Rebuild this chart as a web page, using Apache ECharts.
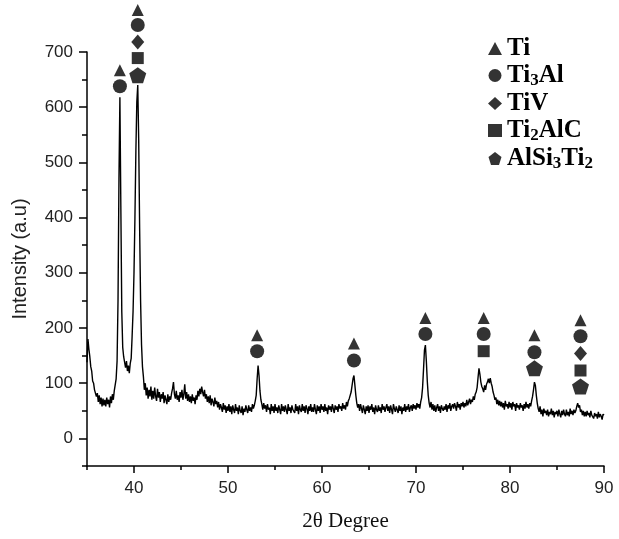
<!DOCTYPE html>
<html>
<head>
<meta charset="utf-8">
<script src="https://cdn.jsdelivr.net/npm/echarts@6/dist/echarts.min.js"></script>
<style>
html,body{margin:0;padding:0;background:#fff;}
#chart{width:619px;height:539px;}
</style>
</head>
<body>
<div id="chart"></div>
<script>
// 2θ grid: 35.0 .. 90.0 in 0.1° steps, one row per degree
const twoThetaStart = 35.0;
const twoThetaStep = 0.1;
const intensity = [
  138,180,162,148,130,122,104,100,88,90,      // 35
  76,82,66,78,62,74,58,72,60,70,              // 36
  58,74,62,70,56,76,64,80,70,86,              // 37
  88,108,140,250,470,618,420,230,165,148,     // 38
  150,128,140,122,132,118,136,145,185,230,    // 39
  300,400,520,610,640,540,380,250,170,130,    // 40
  112,88,100,78,92,72,88,76,94,70,            // 41
  86,72,92,76,68,90,74,84,66,80,              // 42
  72,84,64,78,70,62,80,66,76,70,              // 43
  82,90,102,80,72,86,70,78,66,84,             // 44
  74,88,70,80,98,72,84,68,80,66,              // 45
  76,64,80,68,74,62,78,70,86,76,              // 46
  90,80,94,84,76,88,72,80,66,76,              // 47
  64,78,60,72,66,58,74,62,68,56,              // 48
  66,52,62,56,48,64,52,60,46,58,              // 49
  50,62,48,58,44,60,52,46,62,50,              // 50
  56,44,60,50,46,58,42,54,48,60,              // 51
  52,46,60,50,56,48,62,54,60,68,              // 52
  78,108,132,114,86,70,62,52,64,54,           // 53
  60,48,62,52,56,44,62,50,58,46,              // 54
  62,50,56,46,60,52,44,62,50,58,              // 55
  48,60,52,44,62,50,56,46,60,52,              // 56
  54,46,62,50,58,44,60,52,48,62,              // 57
  50,58,46,60,54,44,58,50,62,48,              // 58
  56,48,62,52,44,60,50,58,46,62,              // 59
  52,58,48,62,50,56,44,60,52,58,              // 60
  48,62,54,46,60,52,58,48,62,54,              // 61
  58,50,64,54,60,52,66,58,68,72,              // 62
  74,84,96,108,114,96,78,64,56,62,            // 63
  50,62,54,46,60,52,44,58,50,60,              // 64
  46,58,52,62,48,56,44,60,52,48,              // 65
  60,50,56,46,62,52,58,48,56,62,              // 66
  50,58,46,60,52,44,62,54,48,58,              // 67
  52,46,60,50,58,44,56,50,62,48,              // 68
  58,52,62,48,56,60,50,62,54,60,              // 69
  52,64,56,62,54,66,74,92,125,160,            // 70
  169,140,104,78,64,56,66,52,62,50,           // 71
  60,48,56,62,50,58,46,60,54,50,              // 72
  58,52,62,48,60,54,64,50,58,62,              // 73
  54,64,58,50,66,56,62,52,64,58,              // 74
  66,56,64,58,70,60,66,72,62,70,              // 75
  66,76,70,80,84,92,110,127,116,102,          // 76
  94,90,84,96,88,98,102,108,100,109,          // 77
  100,94,84,78,70,74,62,70,60,68,             // 78
  58,66,56,64,52,68,58,62,54,66,              // 79
  56,64,52,66,58,62,50,64,56,60,              // 80
  52,64,56,60,50,62,54,66,56,62,              // 81
  54,64,58,68,76,88,102,96,78,64,             // 82
  54,48,58,44,52,40,54,46,50,42,              // 83
  52,40,48,44,54,42,50,38,48,44,              // 84
  50,40,52,44,38,50,42,52,44,40,              // 85
  52,42,48,40,54,44,50,42,52,46,              // 86
  50,58,64,56,60,48,52,42,50,40,              // 87
  48,40,50,42,46,38,50,42,44,36,              // 88
  46,40,44,36,48,38,44,40,34,44,              // 89
  42                                          // 90
];

// phase markers: [2θ, level]
const phaseNames = ['Ti', 'Ti3Al', 'TiV', 'Ti2AlC', 'AlSi3Ti2'];
const tiMarks      = [[38.5,667],[40.4,776],[53.1,187],[63.4,172],[71.0,218],[77.2,218],[82.6,187],[87.5,214]];
const ti3alMarks   = [[38.5,638],[40.4,749],[53.1,158],[63.4,141],[71.0,189],[77.2,189],[82.6,156],[87.5,185]];
const tivMarks     = [[40.4,718],[87.5,154]];
const ti2alcMarks  = [[40.4,689],[77.2,158],[87.5,123]];
const alsi3ti2Marks= [[40.4,658],[82.6,127],[87.5,94]];

const xTickLabels = [40, 50, 60, 70, 80, 90];
const yTickLabels = [0, 100, 200, 300, 400, 500, 600, 700];

const pentagon = 'path://M50,0 L100,38 L81,100 L19,100 L0,38 Z';
const symbols = ['triangle', 'circle', 'diamond', 'rect', pentagon];
const symbolSizes = [[12,12], 14, [13,15], [12,12], [17,16]];
const markSets = [tiMarks, ti3alMarks, tivMarks, ti2alcMarks, alsi3ti2Marks];

const lineData = intensity.map((v, i) => [+(twoThetaStart + i * twoThetaStep).toFixed(1), v]);

const chart = echarts.init(document.getElementById('chart'), null, {renderer: 'canvas'});

const sans = 'Liberation Sans, Arial, sans-serif';
const serif = 'Liberation Serif, Times New Roman, serif';

const series = [{
  type: 'line',
  name: 'pattern',
  data: lineData,
  showSymbol: false,
  symbol: 'none',
  lineStyle: {color: '#000', width: 1.4},
  xAxisIndex: 0, yAxisIndex: 0,
  animation: false,
  z: 2
}];
phaseNames.forEach((n, k) => {
  series.push({
    type: 'scatter',
    name: n,
    data: markSets[k],
    symbol: symbols[k],
    symbolSize: symbolSizes[k],
    itemStyle: {color: '#000'},
    clip: false,
    xAxisIndex: 0, yAxisIndex: 0,
    animation: false,
    z: 3
  });
});

chart.setOption({
  animation: false,
  backgroundColor: '#fff',
  grid: {left: 87, right: 15, top: 52, bottom: 73, containLabel: false},
  legend: {
    orient: 'vertical',
    left: 483, top: 31,
    itemWidth: 14, itemHeight: 13,
    itemGap: 2,
    data: phaseNames.map((n, k) => ({name: n, icon: symbols[k], itemStyle: {color: '#000'}})),
    formatter: name => '{n|' + name.replace(/(\d)/g, '}{s|$1}{n|') + '}',
    textStyle: {
      fontFamily: serif, fontWeight: 'bold', fontSize: 25, color: '#000',
      rich: {
        n: {fontFamily: serif, fontWeight: 'bold', fontSize: 25, lineHeight: 27, color: '#000'},
        s: {fontFamily: serif, fontWeight: 'bold', fontSize: 17, lineHeight: 27, verticalAlign: 'bottom', color: '#000'}
      }
    }
  },
  xAxis: [{
    type: 'value', min: 35, max: 90,
    position: 'bottom',
    name: '2θ Degree', nameLocation: 'middle', nameGap: 45,
    nameTextStyle: {fontFamily: serif, fontSize: 21, color: '#111'},
    axisLine: {show: true, onZero: false, lineStyle: {color: '#000', width: 1.5}},
    axisTick: {show: true, inside: false, length: 7, lineStyle: {color: '#000', width: 1.5}, customValues: xTickLabels},
    axisLabel: {show: true, margin: 14, fontFamily: sans, fontSize: 17, color: '#222', customValues: xTickLabels},
    splitLine: {show: false}
  }, {
    type: 'value', min: 35, max: 90, interval: 5,
    position: 'bottom',
    axisLine: {show: false, onZero: false},
    axisTick: {show: true, inside: false, length: 4, lineStyle: {color: '#000', width: 1.5}},
    axisLabel: {show: false},
    splitLine: {show: false}
  }],
  yAxis: [{
    type: 'value', min: -50, max: 700,
    position: 'left',
    name: 'Intensity (a.u)', nameLocation: 'middle', nameGap: 57,
    nameTextStyle: {fontFamily: sans, fontSize: 20, color: '#222'},
    axisLine: {show: true, onZero: false, lineStyle: {color: '#000', width: 1.5}},
    axisTick: {show: true, inside: false, length: 8, lineStyle: {color: '#000', width: 1.5}, customValues: yTickLabels},
    axisLabel: {show: true, margin: 14, fontFamily: sans, fontSize: 17, color: '#222', customValues: yTickLabels},
    splitLine: {show: false}
  }, {
    type: 'value', min: -50, max: 700, interval: 50,
    position: 'left',
    axisLine: {show: false, onZero: false},
    axisTick: {show: true, inside: false, length: 5, lineStyle: {color: '#000', width: 1.5}},
    axisLabel: {show: false},
    splitLine: {show: false}
  }],
  series: series
});
</script>
</body>
</html>
